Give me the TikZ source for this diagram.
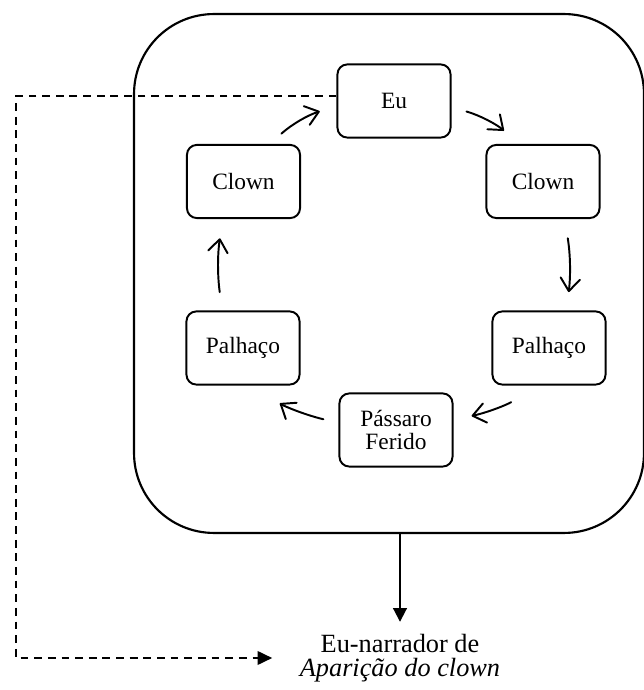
\documentclass[tikz,border=0pt]{standalone}
\usepackage{fontspec}
\setmainfont{Liberation Serif}
\usetikzlibrary{arrows.meta}

\begin{document}
\begin{tikzpicture}[x=0.513pt, y=0.513pt,
		caixa/.style={draw, line width=1pt, rounded corners=5pt, minimum width=58pt, minimum height=37.5pt, align=center, font=\fontsize{12}{12}\selectfont},
		moldura/.style={draw, line width=1.1pt, rounded corners=41pt, minimum width=261.6pt, minimum height=266.2pt},
		ciclo/.style={line width=1pt, line cap=round, -{Straight Barb[length=6.5pt,width=10pt,round]}},
		saida/.style={line width=1pt, -{Triangle[length=7pt,width=7pt]}},
		tracejado/.style={line width=0.9pt, dash pattern=on 4pt off 3pt, -{Triangle[length=7.5pt,width=7pt]}}]
			%%%%% START %%%%%
			\useasboundingbox (0, 0) rectangle (644, 690);
			
			\node[moldura] (cena) at (389, 416.5) {};
			
			\node[caixa] (eu) at (394, 589) {Eu};
			\node[caixa] (clownD) at (543, 508.5) {Clown};
			\node[caixa] (clownE) at (243.5, 508.5) {Clown};
			\node[caixa] (palhacoD) at (549, 342) {Palhaço};
			\node[caixa] (palhacoE) at (243, 342) {Palhaço};
			\node[caixa] (passaro) at (396, 260) {Pássaro\\Ferido};
			
			\draw[ciclo, shorten <=8pt, shorten >=9pt] (clownE.55) to[bend left=12] (eu.185);
			\draw[ciclo, shorten <=8pt, shorten >=10.5pt] (eu.354) to[bend left=12] (clownD.122);
			\draw[ciclo, shorten <=10pt, shorten >=9.5pt] (clownD.300) to[bend left=8] (palhacoD.65);
			\draw[ciclo, shorten <=16pt, shorten >=9.5pt] (palhacoD.253) to[bend left=10] (passaro.10);
			\draw[ciclo, shorten <=8pt, shorten >=16.5pt] (passaro.173) to[bend left=10] (palhacoE.285);
			\draw[ciclo, shorten <=9.5pt, shorten >=10pt] (palhacoE.119) to[bend left=8] (clownE.241);
			
			\node[inner sep=0pt, align=center, font=\fontsize{13.5}{12.5}\selectfont] (narrador) at (400, 32) {Eu-narrador de\\\textit{Aparição do clown}};
			
			\draw[saida, shorten >=6pt] (cena.south -| narrador.north) -- (narrador.north);
			
			\coordinate (margem) at (16, 0);
			\draw[tracejado, shorten >=14pt] ([yshift=2.5pt]eu.west) -- ([yshift=2.5pt]eu.west -| margem) |- (narrador.west);
			%%%%% END %%%%%
\end{tikzpicture}
\end{document}
